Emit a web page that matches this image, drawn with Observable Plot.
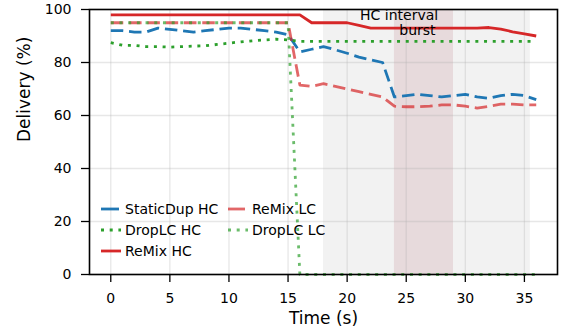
<!DOCTYPE html>
<html>
<head>
<meta charset="utf-8">
<script src="https://cdn.jsdelivr.net/npm/d3@7"></script>
<script src="https://cdn.jsdelivr.net/npm/@observablehq/plot@0.6"></script>
<style>
  html, body { margin: 0; padding: 0; background: #fff; }
</style>
</head>
<body>
<div id="chart"></div>
<script>
// ---- data ----
const time = [0,1,2,3,4,5,6,7,8,9,10,11,12,13,14,15,16,17,18,19,20,21,22,23,24,25,26,27,28,29,30,31,32,33,34,35,36];
const staticDupHC = [92,92,91.5,91.5,93,92.5,92,91.5,92,92.5,93,93,92.5,92,91.5,90.5,84,85,86,84.8,83.5,82,81,80,67,67.5,68,67.5,67,67.5,68,67,66.5,67.5,68,67.5,66];
const dropLCHC   = [87.5,86.5,86.5,86,86,85.8,86,86.2,86.3,86.8,87.3,87.8,88.2,88.5,88.8,88.5,88,88,88,88,88,88,88,88,88,88,88,88,88,88,88,88,88,88,88,88,88];
const remixHC    = [98,98,98,98,98,98,98,98,98,98,98,98,98,98,98,98,98,95,95,95,95,94,93,93,93,93,93,93,93,93,93,93,93.2,92.6,91.6,90.8,90];
const remixLC    = [95,95,95,95,95,95,95,95,95,95,95,95,95,95,95,95,71.5,71,72,71,70,69,68,67,63.5,63.3,63.3,63.5,64,64,63.5,62.8,63.5,64.3,64.3,64,64];
const dropLCLC   = [95,95,95,95,95,95,95,95,95,95,95,95,95,95,95,95,0,0,0,0,0,0,0,0,0,0,0,0,0,0,0,0,0,0,0,0,0];

const seriesNames = ["StaticDup HC", "DropLC HC", "ReMix HC", "ReMix LC", "DropLC LC"];
const seriesValues = [staticDupHC, dropLCHC, remixHC, remixLC, dropLCLC];

const xTicks = [0, 5, 10, 15, 20, 25, 30, 35];
const yTicks = [0, 20, 40, 60, 80, 100];
const xDomain = [-1.8, 37.8];
const yDomain = [0, 100];

const shadeSpan = [18, 35.5];   // light grey period
const burstSpan = [24, 29];     // HC interval burst
const annotLines = ["HC interval", "burst"];
const annotX = [24.4, 25.95];
const annotY = [97.6, 92.0];

// ---- styles ----
const seriesStyles = [
  {stroke: "#1f77b4", dash: "12.5,5.8", legendDash: "18,6", opacity: 1},
  {stroke: "#2ca02c", dash: "3,5.7",    legendDash: "3,5.7", opacity: 1},
  {stroke: "#d62728", dash: null,       legendDash: null, opacity: 1},
  {stroke: "#d62728", dash: "12.5,5.8", legendDash: "17,6", opacity: 0.7},
  {stroke: "#2ca02c", dash: "3,5.7",    legendDash: "3,5.7", opacity: 0.7}
];

const table = seriesNames.flatMap((name, i) =>
  time.map((t, j) => ({name, t, v: seriesValues[i][j]})));

const lineMarks = seriesNames.map((name, i) =>
  Plot.line(table.filter(d => d.name === name), {
    x: "t", y: "v",
    stroke: seriesStyles[i].stroke,
    strokeOpacity: seriesStyles[i].opacity,
    strokeWidth: 2.8,
    strokeDasharray: seriesStyles[i].dash || undefined,
    strokeLinecap: "butt",
    strokeLinejoin: "round"
  }));

const plot = Plot.plot({
  width: 566,
  height: 335,
  marginLeft: 89,
  marginRight: 9,
  marginTop: 9,
  marginBottom: 61,
  style: {fontFamily: "DejaVu Sans", fontSize: "14px", color: "black", background: "white"},
  x: {domain: xDomain},
  y: {domain: yDomain},
  marks: [
    Plot.rect([shadeSpan], {x1: d => d[0], x2: d => d[1], fill: "#f2f2f2"}),
    Plot.rect([burstSpan], {x1: d => d[0], x2: d => d[1], fill: "#e7dadc"}),
    Plot.gridX(xTicks, {stroke: "#b0b0b0", strokeOpacity: 0.3, strokeWidth: 1.3}),
    Plot.gridY(yTicks, {stroke: "#b0b0b0", strokeOpacity: 0.3, strokeWidth: 1.3}),
    ...lineMarks,
    Plot.frame({stroke: "black", strokeWidth: 1.6}),
    Plot.axisX({ticks: xTicks, tickSize: 8, tickPadding: 11, fontSize: 14, label: null, strokeWidth: 1.3}),
    Plot.axisY({ticks: yTicks, tickSize: 8, tickPadding: 10, fontSize: 14, label: null, strokeWidth: 1.3}),
    Plot.text(annotLines, {x: (d, i) => annotX[i], y: (d, i) => annotY[i], text: d => d, fontSize: 14, fill: "black"}),
    Plot.text(["Time (s)"], {frameAnchor: "bottom", dy: 49, text: d => d, fontSize: 17, fill: "black"}),
    Plot.text(["Delivery (%)"], {frameAnchor: "left", dx: -65, rotate: -90, text: d => d, fontSize: 17, fill: "black"})
  ]
});

// ---- legend (inside the plot, lower left, 2 columns) ----
const svg = d3.select(plot);
const legendColumns = [[0, 1, 2], [3, 4]];
const colX = [101, 228];
const rowY = [209, 230, 251];
const lg = svg.append("g")
  .attr("font-family", "DejaVu Sans")
  .attr("font-size", 14)
  .attr("text-anchor", "start");
legendColumns.forEach((col, ci) => {
  col.forEach((si, ri) => {
    const st = seriesStyles[si];
    lg.append("line")
      .attr("x1", colX[ci]).attr("x2", colX[ci] + 20)
      .attr("y1", rowY[ri]).attr("y2", rowY[ri])
      .attr("stroke", st.stroke)
      .attr("stroke-opacity", st.opacity)
      .attr("stroke-width", 2.8)
      .attr("stroke-dasharray", st.legendDash)
      .attr("stroke-linecap", "butt");
    lg.append("text")
      .attr("x", colX[ci] + 24)
      .attr("y", rowY[ri])
      .attr("dy", "0.36em")
      .attr("text-anchor", "start")
      .attr("fill", "black")
      .text(seriesNames[si]);
  });
});

document.getElementById("chart").appendChild(plot);
</script>
</body>
</html>
